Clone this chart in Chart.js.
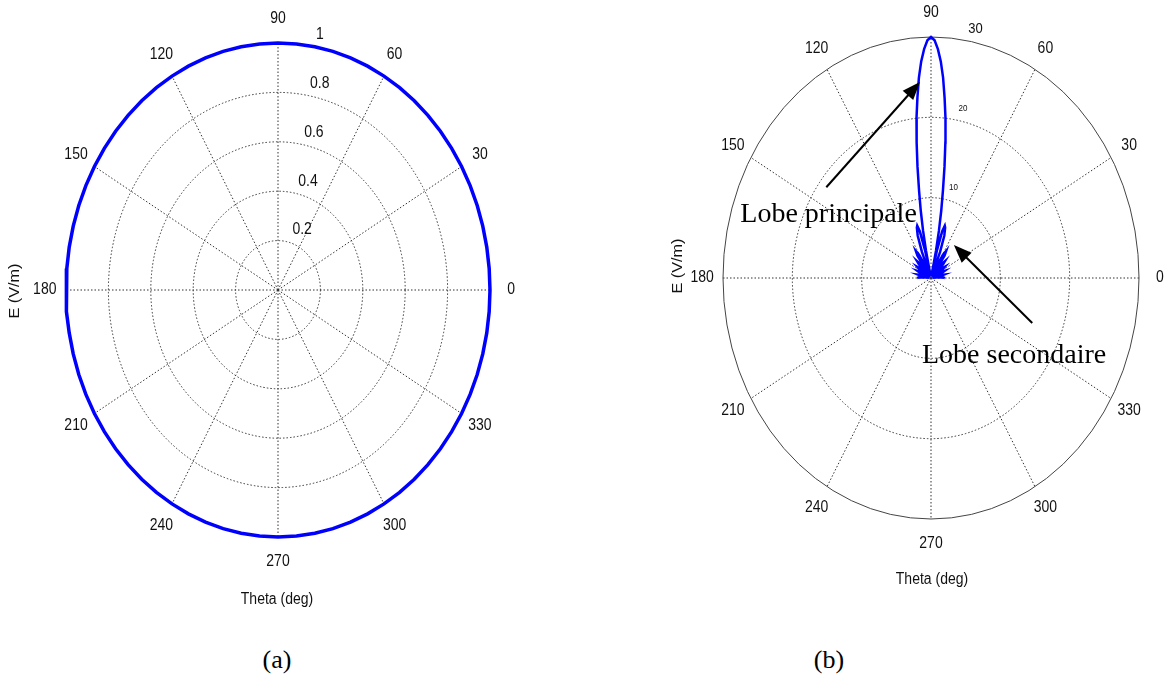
<!DOCTYPE html>
<html>
<head>
<meta charset="utf-8">
<script src="https://cdn.jsdelivr.net/npm/chart.js@4.4.1/dist/chart.umd.min.js"></script>
<style>
  html, body { margin: 0; padding: 0; background: #fff; }
  body { width: 1165px; height: 675px; position: relative; overflow: hidden; }
  #wrapA { position: absolute; left: 0; top: 0; width: 560px; height: 625px; }
  #wrapB { position: absolute; left: 580px; top: 0; width: 585px; height: 625px; }
  .cap { position: absolute; top: 645px; width: 100px; text-align: center;
         font-family: "Liberation Serif", "Times New Roman", serif; font-size: 26px; color: #000; }
</style>
</head>
<body>
<div id="wrapA"><canvas id="chartA"></canvas></div>
<div id="wrapB"><canvas id="chartB"></canvas></div>
<div class="cap" style="left:227px">(a)</div>
<div class="cap" style="left:779px">(b)</div>

<script>
// --- data (a): uniform pattern, E normalised to 1
const thetaA = [0, 5, 10, 15, 20, 25, 30, 35, 40, 45, 50, 55, 60, 65, 70, 75, 80, 85, 90,
  95, 100, 105, 110, 115, 120, 125, 130, 135, 140, 145, 150, 155, 160, 165, 170, 175, 180,
  185, 190, 195, 200, 205, 210, 215, 220, 225, 230, 235, 240, 245, 250, 255, 260, 265, 270,
  275, 280, 285, 290, 295, 300, 305, 310, 315, 320, 325, 330, 335, 340, 345, 350, 355, 360];
const rA = [1, 1, 1, 1, 1, 1, 1, 1, 1, 1, 1, 1, 1, 1, 1, 1, 1, 1, 1,
  1, 1, 1, 1, 1, 1, 1, 1, 1, 1, 1, 1, 1, 1, 1, 1, 1, 1,
  1, 1, 1, 1, 1, 1, 1, 1, 1, 1, 1, 1, 1, 1, 1, 1, 1, 1,
  1, 1, 1, 1, 1, 1, 1, 1, 1, 1, 1, 1, 1, 1, 1, 1, 1, 1];
const ringsA = [0.2, 0.4, 0.6, 0.8, 1];
const ringLabelsA = ['0.2', '0.4', '0.6', '0.8', '1'];

// --- data (b): array pattern, main lobe at 90 deg
const thetaB = [0, 2, 4, 6, 8, 11, 13, 15, 18, 22, 24, 26, 29, 33, 35, 37, 40, 44, 46, 48, 51,
  55, 57, 59, 62, 65, 68, 70, 72, 73, 74.5, 76, 77, 78, 79, 80, 81, 82, 83, 84, 85, 86, 87, 88, 89, 90,
  91, 92, 93, 94, 95, 96, 97, 98, 99, 100, 101, 102, 103, 104, 105.5, 107, 108, 110, 112, 115,
  118, 121, 123, 125, 129, 132, 134, 136, 140, 143, 145, 147, 151, 154, 156, 158, 162, 165,
  167, 169, 172, 174, 176, 178, 180];
const rB = [2.0, 1.8, 1.3, 0.7, 0.2, 1.5, 1.9, 1.5, 0.2, 1.7, 2.1, 1.7, 0.2, 2.0, 2.4, 2.0, 0.2, 2.4, 2.9, 2.4, 0.2,
  3.4, 4.0, 3.4, 1.5, 0.2, 3.5, 5.6, 6.6, 6.8, 6.0, 3.5, 0.4, 3.5, 6.0, 8.5, 11, 14, 17, 20, 22.5, 25, 27, 28.5, 29.6, 30,
  29.6, 28.5, 27, 25, 22.5, 20, 17, 14, 11, 8.5, 6.0, 3.5, 0.4, 3.5, 6.0, 6.8, 6.6, 5.6, 3.5, 0.2,
  1.5, 3.4, 4.0, 3.4, 0.2, 2.4, 2.9, 2.4, 0.2, 2.0, 2.4, 2.0, 0.2, 1.7, 2.1, 1.7, 0.2, 1.5,
  1.9, 1.5, 0.2, 0.7, 1.3, 1.8, 2.0];
const ringsB = [10, 20, 30];
const ringLabelsB = ['10', '20', '30'];

// shared angular ticks
const spokeAngles = [0, 30, 60, 90, 120, 150, 180, 210, 240, 270, 300, 330];
const angleLabels = ['0', '30', '60', '90', '120', '150', '180', '210', '240', '270', '300', '330'];

const SY = 1.16; // the source picture is stretched vertically
const DEG = Math.PI / 180;

function toXY(theta, r) {
  return theta.map((t, i) => ({ x: r[i] * Math.cos(t * DEG), y: r[i] * Math.sin(t * DEG) }));
}

function label(ctx, text, x, y, size, align, rotate) {
  ctx.save();
  ctx.translate(x, y);
  ctx.scale(1, SY);
  if (rotate) ctx.rotate(-Math.PI / 2);
  ctx.font = size + 'px "Liberation Sans", Arial, sans-serif';
  ctx.textAlign = align || 'center';
  ctx.textBaseline = 'middle';
  ctx.fillStyle = '#111';
  ctx.fillText(text, 0, 0);
  ctx.restore();
}

function arrow(ctx, x0, y0, x1, y1) {
  const a = Math.atan2(y1 - y0, x1 - x0), L = 18, W = 7;
  ctx.save();
  ctx.strokeStyle = '#000';
  ctx.fillStyle = '#000';
  ctx.lineWidth = 2;
  ctx.beginPath();
  ctx.moveTo(x0, y0);
  ctx.lineTo(x1 - Math.cos(a) * L * 0.8, y1 - Math.sin(a) * L * 0.8);
  ctx.stroke();
  ctx.beginPath();
  ctx.moveTo(x1, y1);
  ctx.lineTo(x1 - Math.cos(a) * L - Math.sin(a) * W, y1 - Math.sin(a) * L + Math.cos(a) * W);
  ctx.lineTo(x1 - Math.cos(a) * L + Math.sin(a) * W, y1 - Math.sin(a) * L - Math.cos(a) * W);
  ctx.closePath();
  ctx.fill();
  ctx.restore();
}

// MATLAB-like polar grid, drawn through the chart's own x/y scales
const polarGrid = {
  id: 'polarGrid',
  beforeDatasetsDraw(chart, args, o) {
    const { ctx, scales: { x, y } } = chart;
    const cx = x.getPixelForValue(0), cy = y.getPixelForValue(0);
    const rMax = o.rings[o.rings.length - 1];
    ctx.save();
    ctx.lineWidth = 1;
    // spokes
    ctx.strokeStyle = '#333';
    ctx.setLineDash([1.5, 2]);
    spokeAngles.forEach(a => {
      ctx.beginPath();
      ctx.moveTo(cx, cy);
      ctx.lineTo(x.getPixelForValue(rMax * Math.cos(a * DEG)), y.getPixelForValue(rMax * Math.sin(a * DEG)));
      ctx.stroke();
    });
    // rings
    o.rings.forEach((r, i) => {
      const last = i === o.rings.length - 1;
      ctx.setLineDash(last ? [] : [1.5, 2]);
      ctx.strokeStyle = last ? '#444' : '#333';
      ctx.beginPath();
      ctx.ellipse(cx, cy, x.getPixelForValue(r) - cx, cy - y.getPixelForValue(r), 0, 0, 2 * Math.PI);
      ctx.stroke();
    });
    ctx.restore();
  },
  afterDraw(chart, args, o) {
    const { ctx, scales: { x, y } } = chart;
    const rMax = o.rings[o.rings.length - 1];
    spokeAngles.forEach((a, i) => {
      label(ctx, angleLabels[i],
        x.getPixelForValue(1.1 * rMax * Math.cos(a * DEG)),
        y.getPixelForValue(1.1 * rMax * Math.sin(a * DEG)), 14);
    });
    o.rings.forEach((r, i) => {
      label(ctx, o.ringLabels[i],
        x.getPixelForValue(r * Math.cos(82 * DEG) + 0.04 * rMax),
        y.getPixelForValue(r * Math.sin(82 * DEG) + 0.045 * rMax),
        o.ringFont[i], 'left');
    });
    label(ctx, 'E (V/m)', o.yTitle[0], o.yTitle[1], 14, 'center', true);
    label(ctx, 'Theta (deg)', o.xTitle[0], o.xTitle[1], 14);

    (o.notes || []).forEach(n => {
      arrow(ctx, x.getPixelForValue(n.from[0]), y.getPixelForValue(n.from[1]),
        x.getPixelForValue(n.to[0]), y.getPixelForValue(n.to[1]));
      ctx.save();
      ctx.font = '28px "Liberation Serif", "Times New Roman", serif';
      ctx.fillStyle = '#000';
      ctx.textAlign = 'left';
      ctx.textBaseline = 'alphabetic';
      ctx.fillText(n.text, x.getPixelForValue(n.at[0]), y.getPixelForValue(n.at[1]));
      ctx.restore();
    });
  }
};

function polarChart(id, theta, r, rMax, padding, lineWidth, grid) {
  return new Chart(document.getElementById(id), {
    type: 'scatter',
    data: {
      datasets: [{
        data: toXY(theta, r),
        showLine: true,
        borderColor: '#0000ff',
        borderWidth: lineWidth,
        pointRadius: 0,
        tension: 0,
        clip: false
      }]
    },
    options: {
      responsive: true,
      maintainAspectRatio: false,
      animation: false,
      layout: { padding: padding },
      scales: {
        x: { display: false, min: -rMax, max: rMax },
        y: { display: false, min: -rMax, max: rMax }
      },
      plugins: {
        legend: { display: false },
        tooltip: { enabled: false },
        polarGrid: grid
      }
    },
    plugins: [polarGrid]
  });
}

polarChart('chartA', thetaA, rA, 1, { left: 66, right: 70, top: 43, bottom: 88 }, 3.5, {
  rings: ringsA, ringLabels: ringLabelsA, ringFont: [14, 14, 14, 14, 14],
  yTitle: [15, 291], xTitle: [277, 600]
});

polarChart('chartB', thetaB, rB, 30, { left: 143, right: 26, top: 37, bottom: 106 }, 2.5, {
  rings: ringsB, ringLabels: ringLabelsB, ringFont: [8, 8, 13],
  yTitle: [98, 266], xTitle: [352, 580],
  notes: [
    { text: 'Lobe principale', at: [-27.5, 7.0], from: [-15.1, 11.3], to: [-1.6, 24.4] },
    { text: 'Lobe secondaire', at: [-1.3, -10.6], from: [14.6, -5.6], to: [3.3, 4.1] }
  ]
});
</script>
</body>
</html>
